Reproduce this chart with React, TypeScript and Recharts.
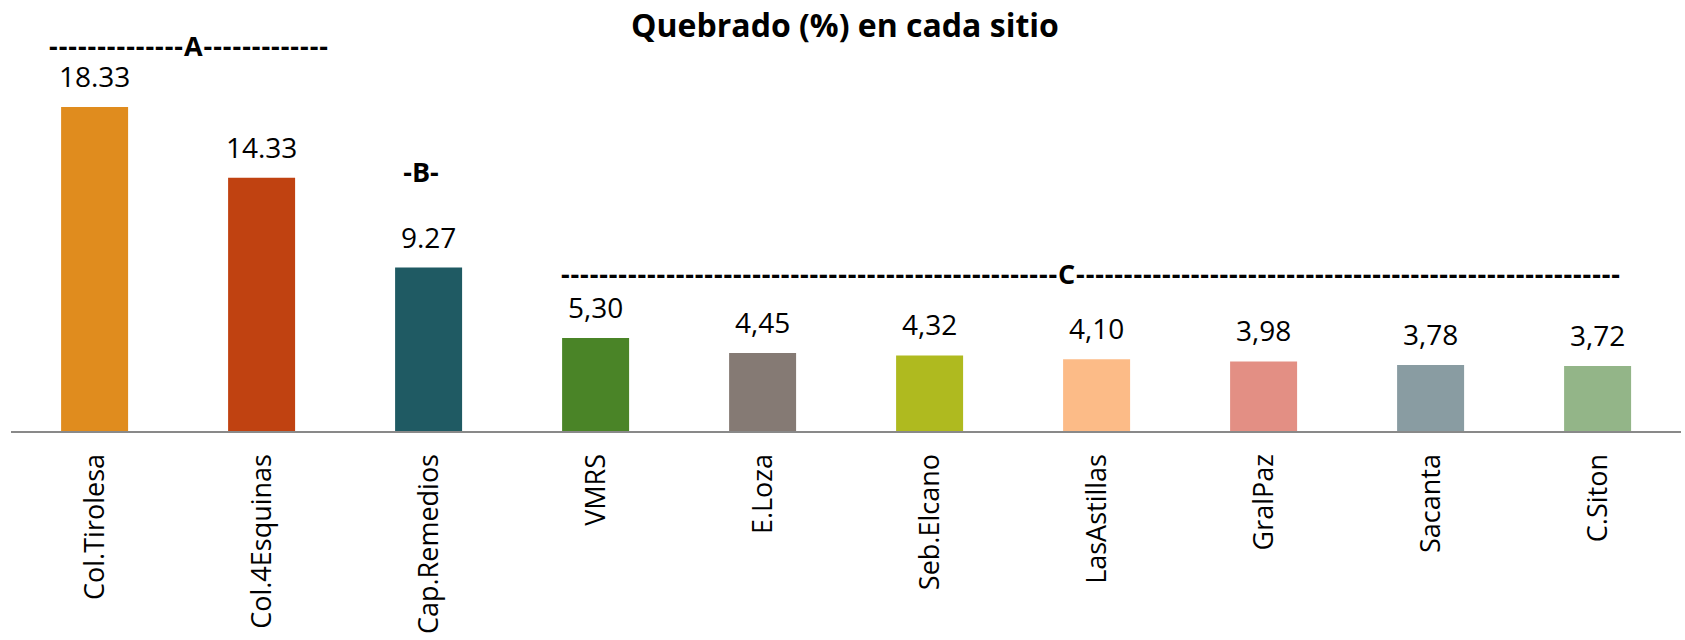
import React from 'react';
import { BarChart, Bar, XAxis, YAxis, Cell, LabelList } from 'recharts';

const sites = ['Col.Tirolesa', 'Col.4Esquinas', 'Cap.Remedios', 'VMRS', 'E.Loza', 'Seb.Elcano', 'LasAstillas', 'GralPaz', 'Sacanta', 'C.Siton'];
const quebrado = [18.33, 14.33, 9.27, 5.3, 4.45, 4.32, 4.1, 3.98, 3.78, 3.72];
const valueLabels = ['18.33', '14.33', '9.27', '5,30', '4,45', '4,32', '4,10', '3,98', '3,78', '3,72'];
const barColors = ['#E08C1E', '#C04211', '#1F5A63', '#4A8427', '#857A74', '#AFBA1F', '#FCBB87', '#E38F84', '#899CA2', '#93B588'];
const groupA = '--------------A-------------';
const groupB = '-B-';
const groupC = '-'.repeat(52) + 'C' + '-'.repeat(57);
const title = 'Quebrado (%) en cada sitio';

const data = sites.map((site, i) => ({ site, value: quebrado[i], label: valueLabels[i] }));

const FONT = '"Open Sans", sans-serif';

const renderLabel = (props: any) => {
  const { x, y, width, value } = props;
  return (
    <text x={Number(x) + Number(width) / 2} y={Number(y) - 20} textAnchor="middle" fontFamily={FONT} fontSize={28} fill="#000">
      {value}
    </text>
  );
};

const renderTick = (props: any) => {
  const { x, payload } = props;
  const ay = 454;
  return (
    <text x={x} y={ay} transform={`rotate(-90, ${x}, ${ay})`} textAnchor="end" dy="0.35em" fontFamily={FONT} fontSize={27} fill="#000">
      {payload.value}
    </text>
  );
};

export default function App() {
  return (
    <div style={{ position: 'absolute', left: 0, top: 0, width: 1685, height: 640, background: '#fff' }}>
      <BarChart width={1685} height={640} data={data} margin={{ top: 77.3, right: 4, bottom: 0, left: 11 }} barCategoryGap="30%">
        <XAxis dataKey="site" height={208} interval={0} tickLine={false} axisLine={{ stroke: '#898989', strokeWidth: 2 }} tick={renderTick} />
        <YAxis hide domain={[0, 20]} />
        <Bar dataKey="value" isAnimationActive={false}>
          {data.map((d, i) => (
            <Cell key={d.site} fill={barColors[i]} />
          ))}
          <LabelList dataKey="label" content={renderLabel} />
        </Bar>
      </BarChart>
      <svg width={1685} height={640} style={{ position: 'absolute', left: 0, top: 0, pointerEvents: 'none' }}>
        <text x={845} y={37} textAnchor="middle" fontFamily={FONT} fontWeight="bold" fontSize={32} fill="#000">{title}</text>
        <text x={49} y={56} textLength={279} lengthAdjust="spacing" fontFamily={FONT} fontWeight="bold" fontSize={27} fill="#000">{groupA}</text>
        <text x={421} y={182} textAnchor="middle" fontFamily={FONT} fontWeight="bold" fontSize={27} fill="#000">{groupB}</text>
        <text x={561} y={284} textLength={1059} lengthAdjust="spacing" fontFamily={FONT} fontWeight="bold" fontSize={27} fill="#000">{groupC}</text>
      </svg>
    </div>
  );
}
